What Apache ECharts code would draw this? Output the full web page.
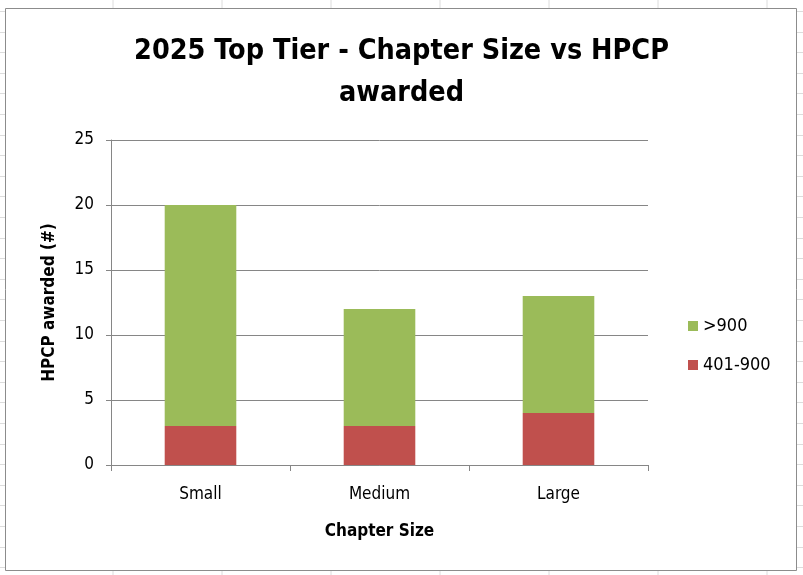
<!DOCTYPE html>
<html>
<head>
<meta charset="utf-8">
<script src="https://cdn.jsdelivr.net/npm/echarts@6/dist/echarts.min.js"></script>
<style>
  html, body { margin: 0; padding: 0; background: #fff; }
  #container { width: 803px; height: 575px; }
</style>
</head>
<body>
<div id="container"></div>
<script>
// chart data
const categories = ['Small', 'Medium', 'Large'];
const tier401to900 = [3, 3, 4];
const tierOver900 = [17, 9, 9];
const yTicks = { min: 0, max: 25, interval: 5 };

const FONT = "'Liberation Sans Narrow', 'DejaVu Sans Condensed', 'Open Sans', sans-serif";

/*
 * Spreadsheet cells behind the chart frame
 */
function sheetLines() {
    const lines = [];
    for (let x = 113; x < 803; x += 109) {
        lines.push({
            type: 'line', z: -20, silent: true,
            shape: { x1: x, y1: 0, x2: x, y2: 575 },
            style: { stroke: '#dcdcdc', lineWidth: 1 }
        });
    }
    for (let y = 11; y < 575; y += 20.6) {
        lines.push({
            type: 'line', z: -20, silent: true,
            shape: { x1: 0, y1: Math.round(y) + 0.5, x2: 803, y2: Math.round(y) + 0.5 },
            style: { stroke: '#dcdcdc', lineWidth: 1 }
        });
    }
    return lines;
}

const dom = document.getElementById('container');
const myChart = echarts.init(dom);

const option = {
    backgroundColor: '#fff',
    animation: false,
    title: {
        text: '2025 Top Tier - Chapter Size vs HPCP\nawarded',
        left: 'center',
        top: 26,
        textStyle: {
            fontFamily: FONT,
            fontSize: 28.5,
            fontWeight: 'bold',
            color: '#000',
            lineHeight: 42
        }
    },
    legend: {
        orient: 'vertical',
        left: 683,
        top: 312,
        itemWidth: 10,
        itemHeight: 10,
        itemGap: 21,
        icon: 'rect',
        data: ['>900', '401-900'],
        textStyle: { fontFamily: FONT, fontSize: 18, color: '#000' }
    },
    grid: {
        left: 111,
        right: 155,
        top: 140,
        bottom: 110
    },
    xAxis: {
        type: 'category',
        data: categories,
        name: 'Chapter Size',
        nameLocation: 'middle',
        nameGap: 58,
        nameTextStyle: { fontFamily: FONT, fontSize: 17, fontWeight: 'bold', color: '#000' },
        axisLine: { lineStyle: { color: '#868686' } },
        axisTick: { show: true, length: 6, lineStyle: { color: '#868686' } },
        axisLabel: { fontFamily: FONT, fontSize: 17, color: '#000', margin: 21 }
    },
    yAxis: {
        type: 'value',
        min: yTicks.min,
        max: yTicks.max,
        interval: yTicks.interval,
        name: 'HPCP awarded (#)',
        nameLocation: 'middle',
        nameGap: 53,
        nameTextStyle: { fontFamily: FONT, fontSize: 17, fontWeight: 'bold', color: '#000' },
        axisLine: { show: true, lineStyle: { color: '#868686' } },
        axisTick: { show: true, length: 5, lineStyle: { color: '#868686' } },
        axisLabel: { fontFamily: FONT, fontSize: 17, color: '#000', margin: 17 },
        splitLine: { lineStyle: { color: '#868686' } }
    },
    graphic: sheetLines().concat([{
        type: 'rect', z: -10, silent: true,
        shape: { x: 5.5, y: 8.5, width: 791, height: 562 },
        style: { fill: '#fff', stroke: '#8c8c8c', lineWidth: 1 }
    }]),
    series: [
        {
            name: '401-900',
            type: 'bar',
            stack: 'total',
            barWidth: '40%',
            data: tier401to900,
            itemStyle: { color: '#C0504D' }
        },
        {
            name: '>900',
            type: 'bar',
            stack: 'total',
            barWidth: '40%',
            data: tierOver900,
            itemStyle: { color: '#9BBB59' }
        }
    ]
};

myChart.setOption(option);
</script>
</body>
</html>
